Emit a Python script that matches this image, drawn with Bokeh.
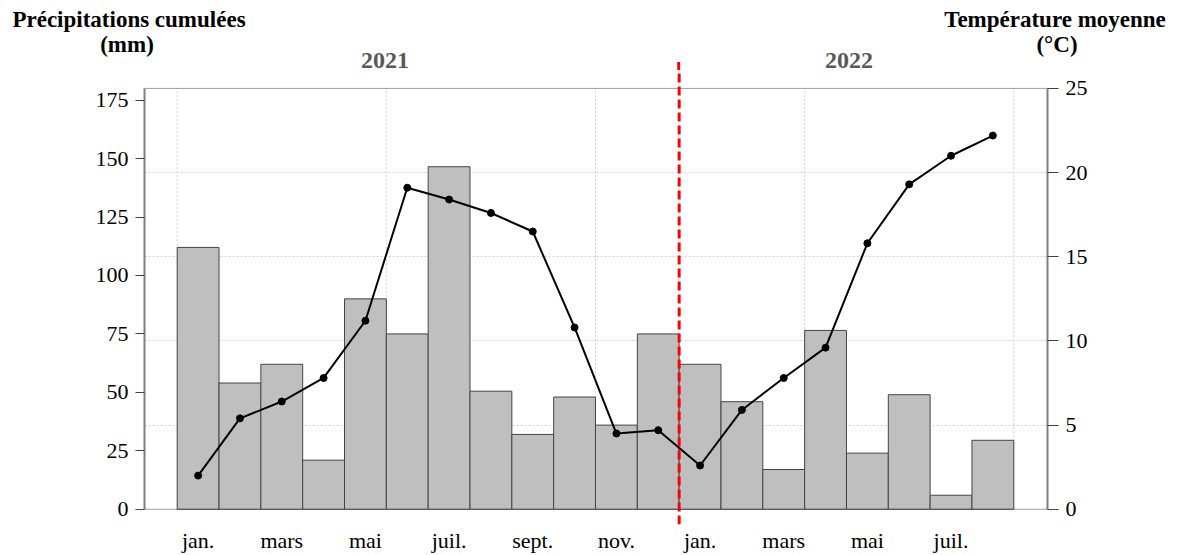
from bokeh.plotting import figure
from bokeh.layouts import column
from bokeh.models import Range1d, LinearAxis, FixedTicker, Grid, Span, Div
from bokeh.embed import file_html
from bokeh.resources import INLINE

# ---------------- data ----------------
months = ["jan.", "févr.", "mars", "avr.", "mai", "juin", "juil.", "août", "sept.", "oct.", "nov.", "déc.",
          "jan.", "févr.", "mars", "avr.", "mai", "juin", "juil.", "août"]
month_year = ["2021"] * 12 + ["2022"] * 8
precip_mm = [112, 54, 62, 21, 90, 75, 146.5, 50.5, 32, 48, 36, 75,
             62, 46, 17, 76.5, 24, 49, 6, 29.5]
temp_c = [2.0, 5.4, 6.4, 7.8, 11.2, 19.1, 18.4, 17.6, 16.5, 10.8, 4.5, 4.7,
          2.6, 5.9, 7.8, 9.6, 15.8, 19.3, 21.0, 22.2]
years = ["2021", "2022"]
left_title = ["Précipitations cumulées", "(mm)"]
right_title = ["Température moyenne", "(°C)"]
left_ticks = [0, 25, 50, 75, 100, 125, 150, 175]
right_ticks = [0, 5, 10, 15, 20, 25]
left_max = 180
right_max = 25

idx = list(range(len(months)))
label_pos = idx[::2]
label_txt = months[::2]
sep_x = month_year.index(years[1]) - 0.5
grid_x = [i - 0.5 for i in range(0, len(months) + 1, 5)]

FONT = "Liberation Serif"
W, H = 1179, 555
HEAD = 70                      # header (titles) height, page px
FL, FR = 144, 1047             # frame left / right (page px)
FT_AX = 88                     # top of the axes (value left_max), page px
Y0PX, FBPX = 510.7, 526        # y=0 line, frame bottom (page px)
X0, X1 = -1.282, 20.306
K = (X1 - X0) / (FR - FL)      # data units per px
MM_PER_PX = left_max / (Y0PX - FT_AX)
Y_START = -(FBPX - Y0PX) * MM_PER_PX
Y_END = (Y0PX - HEAD) * MM_PER_PX

# ---------------- main chart ----------------
p = figure(width=W, height=H - HEAD, output_backend="svg", toolbar_location=None,
           x_range=Range1d(X0, X1), y_range=Range1d(Y_START, Y_END))
p.min_border_left = FL
p.min_border_right = W - FR
p.min_border_top = 0
p.min_border_bottom = int(round(H - FBPX))
p.background_fill_color = "white"
p.border_fill_color = "white"
p.outline_line_color = None
p.xgrid.visible = False
p.ygrid.visible = False

scale_t = right_max / left_max
p.extra_y_ranges = {"temp": Range1d(Y_START * scale_t, Y_END * scale_t)}

g = Grid(dimension=1, y_range_name="temp", ticker=FixedTicker(ticks=right_ticks[1:-1]),
         grid_line_color="#d0d0d0", grid_line_dash="2 2")
p.add_layout(g)
p.segment(x0=grid_x, y0=[0] * len(grid_x), x1=grid_x, y1=[left_max] * len(grid_x),
          line_color="#d0d0d0", line_dash="2 2", line_width=1)

# top / bottom dotted frame lines
for loc in (0, left_max):
    p.add_layout(Span(location=loc, dimension="width", line_color="#404040",
                      line_dash="1 1", line_width=1))

# bars
p.vbar(x=idx, top=precip_mm, width=1.0, bottom=0, fill_color="#bfbfbf",
       line_color="#454545", line_width=1)

# temperature line
p.line(idx, temp_c, y_range_name="temp", line_color="black", line_width=2)
p.scatter(idx, temp_c, y_range_name="temp", size=7, fill_color="black", line_color="black")

# red separator between the two years
p.segment(x0=[sep_x], y0=[Y_START], x1=[sep_x], y1=[Y_END],
          line_color="#ff0000", line_width=3, line_dash="9 4")

# axes
xa = p.xaxis[0]
xa.ticker = FixedTicker(ticks=label_pos)
xa.major_label_overrides = {k: v for k, v in zip(label_pos, label_txt)}
xa.axis_line_color = None
xa.major_tick_line_color = None
xa.minor_tick_line_color = None
xa.major_tick_out = 0
xa.major_tick_in = 0
xa.major_label_standoff = 3
xa.major_label_text_font = FONT
xa.major_label_text_font_size = "22px"
xa.major_label_text_color = "black"

ya = p.yaxis[0]
ya.ticker = FixedTicker(ticks=left_ticks)
ya.bounds = (0, left_max)
ya.axis_line_color = "#808080"
ya.axis_line_width = 2
ya.major_tick_line_color = "#404040"
ya.major_tick_out = 9
ya.major_tick_in = 0
ya.minor_tick_line_color = None
ya.major_label_standoff = 7
ya.major_label_text_font = FONT
ya.major_label_text_font_size = "22px"
ya.major_label_text_color = "black"

ra = LinearAxis(y_range_name="temp", ticker=FixedTicker(ticks=right_ticks), bounds=(0, right_max))
ra.axis_line_color = "#808080"
ra.axis_line_width = 2
ra.major_tick_line_color = "#404040"
ra.major_tick_out = 11
ra.major_tick_in = 0
ra.minor_tick_line_color = None
ra.major_label_standoff = 7
ra.major_label_text_font = FONT
ra.major_label_text_font_size = "22px"
ra.major_label_text_color = "black"
p.add_layout(ra, "right")

# ---------------- header (titles, years) ----------------
sep_px = FL + (sep_x - X0) / K

def t(txt, x, y, size, color="black"):
    return (f'<text x="{x}" y="{y}" text-anchor="middle" '
            f'style="font-family:\'{FONT}\',serif;font-weight:bold;font-size:{size}px;fill:{color}">'
            f'{txt}</text>')

svg = (f'<svg xmlns="http://www.w3.org/2000/svg" width="{W}" height="{HEAD}" '
       f'style="display:block;overflow:visible">'
       + t(left_title[0], 129, 27, 23) + t(left_title[1], 127, 52, 23)
       + t(right_title[0], 1055, 27, 23) + t(right_title[1], 1057, 52, 23)
       + t(years[0], 385, 68, 24, "#595959") + t(years[1], 849, 68, 24, "#595959")
       + f'<line x1="{sep_px:.1f}" y1="62" x2="{sep_px:.1f}" y2="{HEAD}" stroke="#ff0000" '
         f'stroke-width="3" stroke-dasharray="9 4"/>'
       + '</svg>')

header = Div(text=svg, width=W, height=HEAD, styles={"margin": "0", "padding": "0"})

layout = column(header, p, spacing=0)
with open("out.html", "w", encoding="utf-8") as f:
    f.write(file_html(layout, INLINE))
